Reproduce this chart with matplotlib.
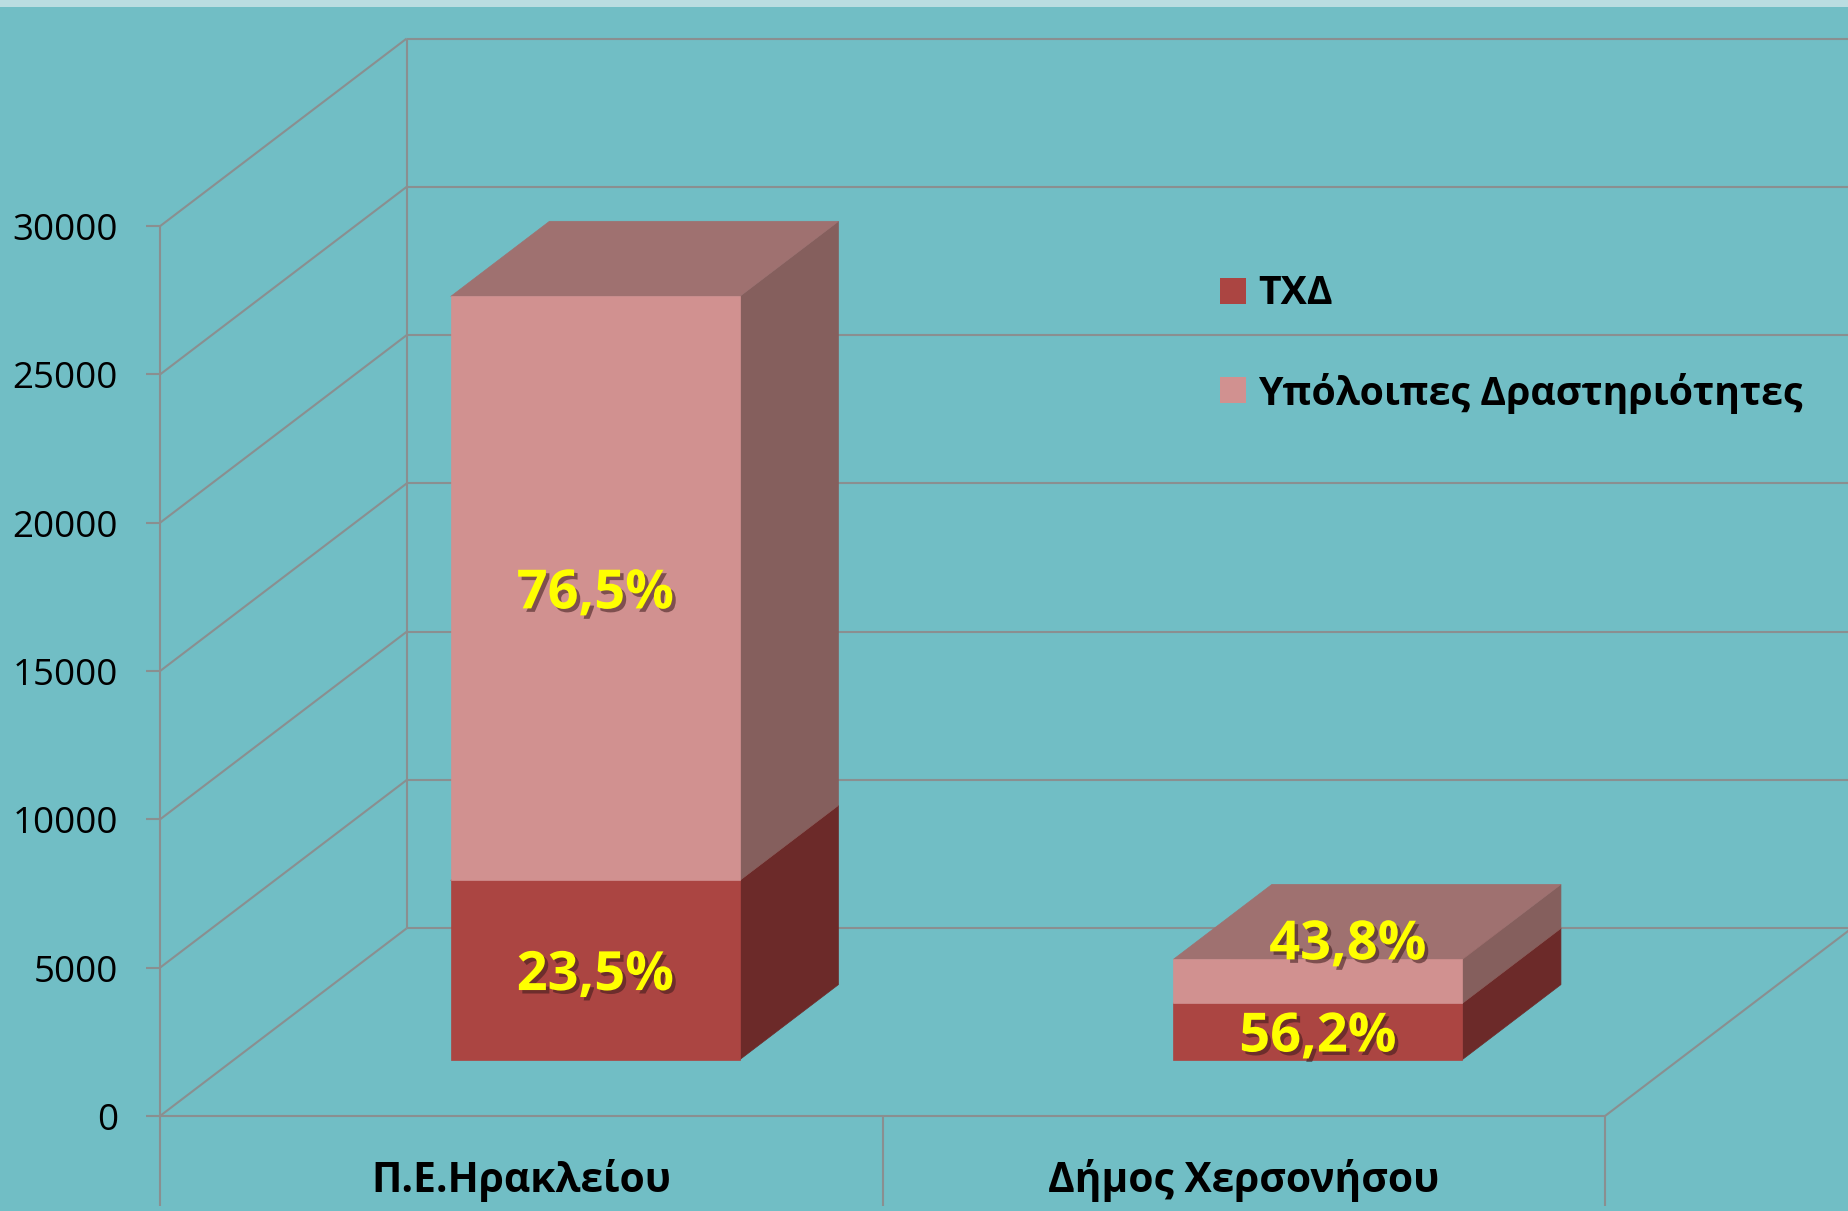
import matplotlib
matplotlib.use('Agg')
import matplotlib.pyplot as plt
import matplotlib.patches as patches
import matplotlib.patheffects as pe

# data
categories = ['Π.Ε.Ηρακλείου', 'Δήμος Χερσονήσου']
series_names = ['ΤΧΔ', 'Υπόλοιπες Δραστηριότητες']
txd = [6045, 1900]
other = [19690, 1480]
y_ticks = [0, 5000, 10000, 15000, 20000, 25000, 30000]

# colours per series: front, side, top
front_cols = ['#AB4542', '#D19190']
side_cols = ['#6C2A29', '#855F5D']
top_cols = ['#8E3A37', '#9F7170']
bg = '#71BEC5'
grid_col = '#8A8F90'

plt.rcParams['font.family'] = ['Open Sans', 'DejaVu Sans']

W, H = 1849, 1211
fig = plt.figure(figsize=(W / 100, H / 100), dpi=100)
fig.patch.set_facecolor(bg)
ax = fig.add_axes([0, 0, 1, 1])
ax.set_facecolor(bg)
ax.axis('off')

# layout of the oblique projection (pixels)
x0_px, y0_px = 160, 1116
cat_px = 722.5
unit_px = 148.3 / 5000
ax.set_xlim(-x0_px / cat_px, (W - x0_px) / cat_px)
ax.set_ylim(-(H - y0_px) / unit_px, y0_px / unit_px)

DX = 246.7 / cat_px      # depth shift in category units
DY = 187.7 / unit_px     # depth shift in value units
ymax = y_ticks[-1]
ncat = len(categories)
bottom_ext = -90 / unit_px
tick_len = 14 / cat_px


def proj(x, y, d):
    return (x + d * DX, y + d * DY)


# walls and grid
gkw = dict(color=grid_col, lw=1.5, zorder=1, solid_capstyle='butt')
for t in y_ticks:
    ax.plot([0, DX], [t, t + DY], **gkw)
    ax.plot([DX, ncat + DX + 0.1], [t + DY, t + DY], **gkw)
    ax.plot([-tick_len, 0], [t, t], **gkw)
    ax.text(-42 / cat_px, t - 5 / unit_px, str(t), ha='right', va='center',
            fontsize=26.5, color='black')
ax.plot([DX, DX], [DY, ymax + DY], **gkw)
ax.plot([ncat, ncat + DX], [0, DY], **gkw)
ax.plot([0, ncat], [0, 0], **gkw)
ax.plot([0, 0], [bottom_ext, ymax], **gkw)
for i in range(1, ncat + 1):
    ax.plot([i, i], [bottom_ext, 0], **gkw)

for i, name in enumerate(categories):
    ax.text(i + 0.5, -65 / unit_px, name, ha='center', va='center',
            fontsize=29.3, fontweight='bold', color='black')


def box(xl, xr, yb, yt, d0, d1, ci):
    front = [proj(xl, yb, d0), proj(xr, yb, d0), proj(xr, yt, d0), proj(xl, yt, d0)]
    side = [proj(xr, yb, d0), proj(xr, yb, d1), proj(xr, yt, d1), proj(xr, yt, d0)]
    top = [proj(xl, yt, d0), proj(xr, yt, d0), proj(xr, yt, d1), proj(xl, yt, d1)]
    for pts, c in [(side, side_cols[ci]), (top, top_cols[ci]), (front, front_cols[ci])]:
        ax.add_patch(patches.Polygon(pts, closed=True, facecolor=c, edgecolor=c,
                                     lw=0.5, zorder=3))


bar_w = 0.4
d0, d1 = 0.3, 0.7
# label offsets in pixels for (category, series)
label_off = {(1, 1): (30, 42)}
shadow = [pe.withSimplePatchShadow(offset=(2.5, -2.5), shadow_rgbFace='#3a1a1a', alpha=0.55)]

for i in range(ncat):
    xl = i + 0.5 - bar_w / 2
    xr = i + 0.5 + bar_w / 2
    total = txd[i] + other[i]
    base = 0
    for s, vals in enumerate([txd, other]):
        v = vals[i]
        box(xl, xr, base, base + v, d0, d1, s)
        pct = f'{v / total * 100:.1f}'.replace('.', ',') + '%'
        cx, cy = proj(i + 0.5, base + v / 2, d0)
        ox, oy = label_off.get((i, s), (0, 0))
        ax.annotate(pct, (cx, cy), xytext=(ox, oy - 6),
                    textcoords='offset pixels', ha='center', va='center',
                    fontsize=39, fontweight='bold', color='#FFFF00',
                    path_effects=shadow, zorder=5)
        base += v

# legend
sq = 26
for s, (name, y_px) in enumerate(zip(series_names, [291, 390])):
    fig.patches.append(patches.Rectangle(((1233.5 - sq / 2) / W, 1 - (y_px + sq / 2) / H),
                                         sq / W, sq / H, transform=fig.transFigure,
                                         facecolor=front_cols[s], edgecolor='none'))
    fig.text(1258 / W, 1 - (y_px + 3) / H, name, ha='left', va='center',
             fontsize=28.3, fontweight='bold', color='black')

# light strip on top
fig.patches.append(patches.Rectangle((0, 1 - 7 / H), 1, 7 / H, transform=fig.transFigure,
                                     facecolor='#BADDE1', edgecolor='none'))

fig.savefig('out.png', dpi=100, facecolor=bg)
